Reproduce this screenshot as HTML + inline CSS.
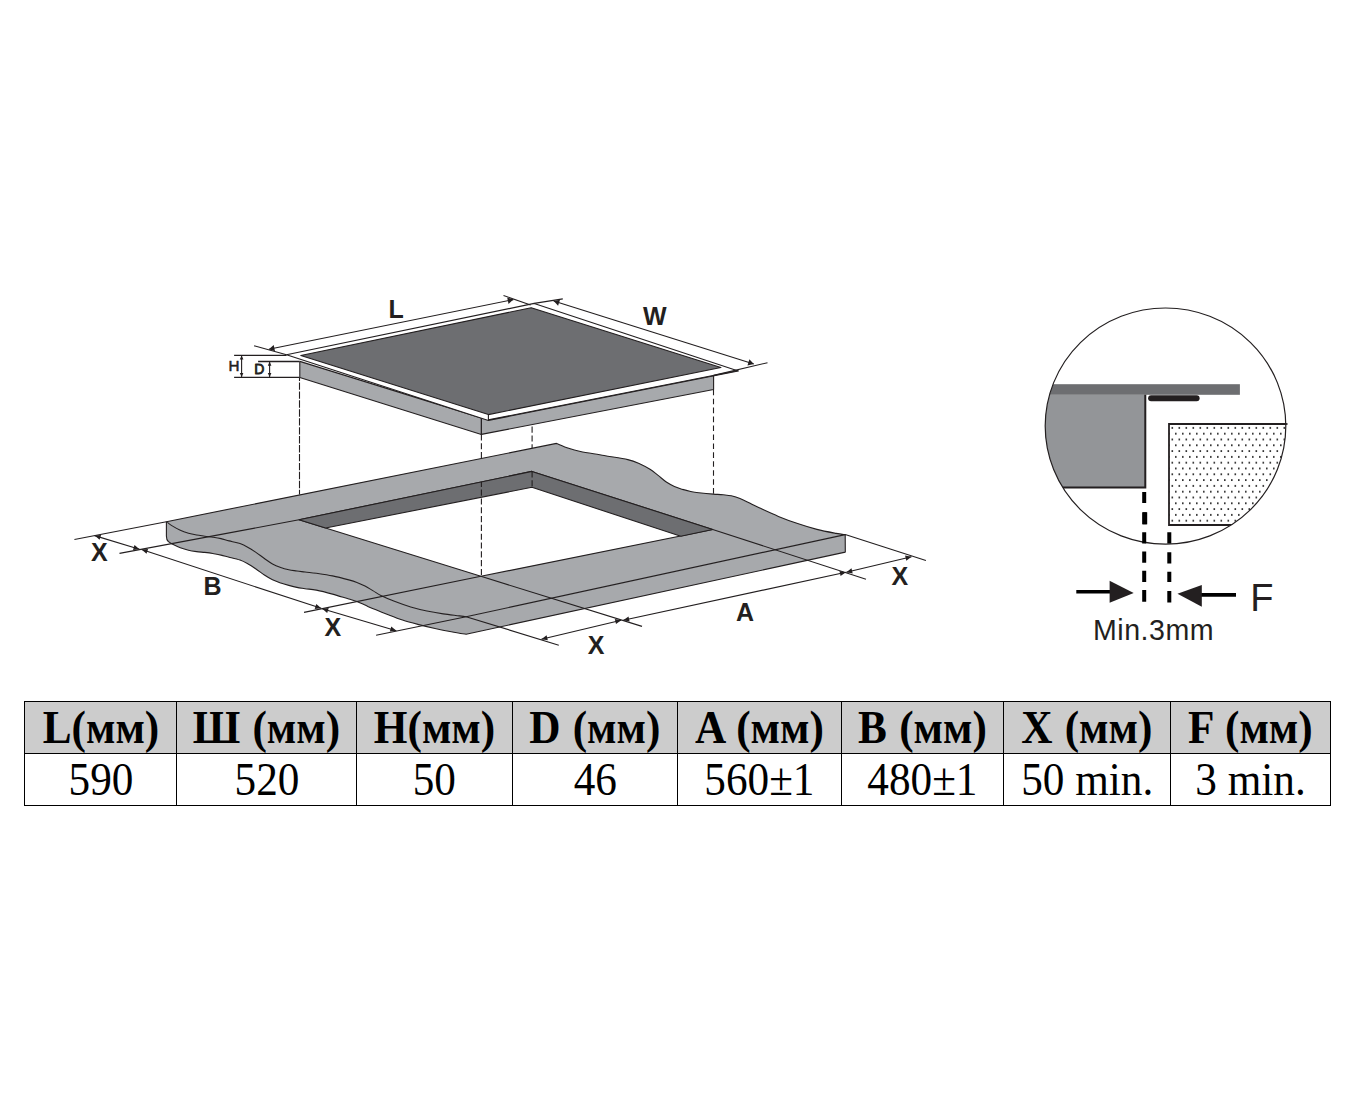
<!DOCTYPE html>
<html lang="ru">
<head>
<meta charset="utf-8">
<title>Размеры встраивания</title>
<style>
html,body{margin:0;padding:0;background:#fff;}
body{width:1353px;height:1107px;position:relative;overflow:hidden;font-family:"Liberation Sans",sans-serif;}
#dia{position:absolute;left:0;top:0;width:1353px;height:1107px;display:block;}
#dia text{font-family:"Liberation Sans",sans-serif;fill:#231f20;}
.ln{stroke:#231f20;stroke-width:1.1;fill:none;}
.ol{stroke:#231f20;stroke-width:1.1;fill:none;stroke-linejoin:round;}
.ah{fill:#231f20;stroke:none;}
.lg{fill:#a7a9ac;}
.dg{fill:#6d6e71;}
table.dim{position:absolute;left:24px;top:701px;border-collapse:collapse;table-layout:fixed;width:1307px;font-family:"Liberation Serif",serif;color:#000;}
table.dim td,table.dim th{border:1px solid #000;padding:0;text-align:center;font-size:45px;line-height:51px;height:51px;white-space:nowrap;overflow:hidden;}
table.dim span{display:inline-block;transform:scaleX(.94);transform-origin:50% 50%;position:relative;top:.3px;}
table.dim th{font-size:46px;word-spacing:1.5px;}
table.dim td{font-size:46.6px;}
table.dim td span{transform:scaleX(.928);top:.1px;}
table.dim th{background:#ccc;font-weight:bold;}
table.dim td{font-weight:normal;}
</style>
</head>
<body>
<svg id="dia" width="1353" height="1107" viewBox="0 0 1353 1107">
<g id="counter">
<path class="lg" d="M166.4 521.7 L166.4 535.5 Q166.3 539.6 168.3 541.5 C169 541.9 170.2 543.1 172.2 544.1 C174.2 545.1 177.6 546.8 180.3 547.8 C183 548.8 185.8 549.6 188.5 550.2 C191.2 550.8 193.9 551.2 196.6 551.6 C199.3 552 202 552.1 204.7 552.4 C207.4 552.7 210.1 553 212.8 553.5 C215.5 554 218.3 554.5 221 555.1 C223.7 555.7 225.9 556.4 229.1 557.2 C232.3 558 236.8 559 240 560.1 C243.2 561.2 245.4 562.5 248.1 564 C250.8 565.5 253.6 567.4 256.3 569.2 C259 571 261.7 573.2 264.4 575 C267.1 576.8 269.8 578.4 272.5 579.7 C275.2 581 278 582 280.7 583 C283.4 584 286.1 584.7 288.8 585.4 C291.5 586.1 294.2 586.8 296.9 587.4 C299.6 588 301.8 588.2 305 588.7 C308.2 589.2 311.7 589.2 316.3 590.1 C320.9 591 327.1 592.6 332.5 594.1 C337.9 595.6 344.7 597.8 348.8 599 C352.9 600.2 354.2 600.5 356.9 601.5 C359.6 602.5 362.3 603.9 365 605.1 C367.7 606.3 369.6 607.3 373.2 608.8 C376.8 610.3 381.4 612 386.3 613.9 C391.2 615.8 397.1 618.2 402.5 620 C407.9 621.8 413.4 623.2 418.8 624.6 C424.2 626 429.6 627.3 435 628.5 C440.4 629.7 446.1 630.8 451.3 631.7 C456.5 632.7 463.6 633.8 466.1 634.2 L845.3 552.1 L845.2 534.6 L466.1 616.7 C465 616.6 463.2 616.4 459.4 615.9 C455.6 615.4 448.6 614.7 443.2 613.9 C437.8 613.1 432.3 612.1 426.9 611 C421.5 609.9 416.1 608.6 410.7 607 C405.3 605.4 399.3 603.2 394.4 601.3 C389.5 599.4 384.9 597.4 381.4 595.7 C377.9 594 375.9 592.5 373.2 590.9 C370.5 589.3 367.7 587.4 365 586 C362.3 584.6 359.6 583.4 356.9 582.4 C354.2 581.4 352.9 581 348.8 579.9 C344.7 578.8 337.9 577 332.5 575.9 C327.1 574.8 320.9 573.9 316.3 573.2 C311.7 572.6 308.2 572.4 305 572 C301.8 571.6 299.6 571.4 296.9 571 C294.2 570.6 291.5 570.4 288.8 569.8 C286.1 569.2 283.4 568.5 280.7 567.5 C278 566.5 275.2 565.4 272.5 563.9 C269.8 562.4 267.1 560.4 264.4 558.5 C261.7 556.6 259 554.5 256.3 552.6 C253.6 550.8 250.8 548.9 248.1 547.4 C245.4 545.9 243.2 544.7 240 543.6 C236.8 542.5 232.3 541.7 229.1 540.9 C225.9 540.1 223.7 539.2 221 538.6 C218.3 538 215.5 537.6 212.8 537.2 C210.1 536.8 207.4 536.6 204.7 536.2 C202 535.8 199.3 535.5 196.6 535 C193.9 534.5 191.2 534 188.5 533.2 C185.8 532.4 183 531.5 180.3 530.3 C177.6 529.1 174.5 527.3 172.2 525.9 C169.9 524.5 167.4 522.4 166.4 521.7 Z"/>
<path class="ol" d="M166.4 521.7 L166.4 535.5 Q166.3 539.6 168.3 541.5 C169 541.9 170.2 543.1 172.2 544.1 C174.2 545.1 177.6 546.8 180.3 547.8 C183 548.8 185.8 549.6 188.5 550.2 C191.2 550.8 193.9 551.2 196.6 551.6 C199.3 552 202 552.1 204.7 552.4 C207.4 552.7 210.1 553 212.8 553.5 C215.5 554 218.3 554.5 221 555.1 C223.7 555.7 225.9 556.4 229.1 557.2 C232.3 558 236.8 559 240 560.1 C243.2 561.2 245.4 562.5 248.1 564 C250.8 565.5 253.6 567.4 256.3 569.2 C259 571 261.7 573.2 264.4 575 C267.1 576.8 269.8 578.4 272.5 579.7 C275.2 581 278 582 280.7 583 C283.4 584 286.1 584.7 288.8 585.4 C291.5 586.1 294.2 586.8 296.9 587.4 C299.6 588 301.8 588.2 305 588.7 C308.2 589.2 311.7 589.2 316.3 590.1 C320.9 591 327.1 592.6 332.5 594.1 C337.9 595.6 344.7 597.8 348.8 599 C352.9 600.2 354.2 600.5 356.9 601.5 C359.6 602.5 362.3 603.9 365 605.1 C367.7 606.3 369.6 607.3 373.2 608.8 C376.8 610.3 381.4 612 386.3 613.9 C391.2 615.8 397.1 618.2 402.5 620 C407.9 621.8 413.4 623.2 418.8 624.6 C424.2 626 429.6 627.3 435 628.5 C440.4 629.7 446.1 630.8 451.3 631.7 C456.5 632.7 463.6 633.8 466.1 634.2 L845.3 552.1 L845.2 534.6"/>
<path class="lg ol" d="M166.4 521.7 L556.5 443.4 C558.5 444.2 564.7 446.9 568.7 448.3 C572.7 449.7 574.6 450.3 580.5 451.5 C586.4 452.7 596.2 454.1 604.1 455.5 C612 456.9 621.9 458.2 627.8 459.6 C633.7 461 635.9 462.1 639.6 463.7 C643.3 465.3 646.9 467.4 650 469.3 C653.1 471.2 655.4 473.3 658.1 475.4 C660.8 477.5 663.6 480.2 666.3 482 C669 483.8 671.7 485.2 674.4 486.4 C677.1 487.6 679.8 488.5 682.5 489.4 C685.2 490.2 688 490.9 690.7 491.5 C693.4 492.1 695 492.4 698.8 492.8 C702.6 493.2 709.3 493.8 713.4 494.1 C717.5 494.4 720.2 494.5 723.2 494.8 C726.2 495.1 728.5 495.2 731.3 495.8 C734.1 496.4 737 497.2 740 498.4 C743 499.6 746.4 501.5 749.6 503.1 C752.8 504.7 754.4 505.6 759.2 507.8 C764 510 772 513.8 778.4 516.4 C784.8 519 791.2 521.4 797.6 523.6 C804 525.8 810.5 527.8 816.9 529.4 C823.3 531 831.4 532.5 836.1 533.4 C840.8 534.3 843.7 534.4 845.2 534.6 L466.1 616.7 C465 616.6 463.2 616.4 459.4 615.9 C455.6 615.4 448.6 614.7 443.2 613.9 C437.8 613.1 432.3 612.1 426.9 611 C421.5 609.9 416.1 608.6 410.7 607 C405.3 605.4 399.3 603.2 394.4 601.3 C389.5 599.4 384.9 597.4 381.4 595.7 C377.9 594 375.9 592.5 373.2 590.9 C370.5 589.3 367.7 587.4 365 586 C362.3 584.6 359.6 583.4 356.9 582.4 C354.2 581.4 352.9 581 348.8 579.9 C344.7 578.8 337.9 577 332.5 575.9 C327.1 574.8 320.9 573.9 316.3 573.2 C311.7 572.6 308.2 572.4 305 572 C301.8 571.6 299.6 571.4 296.9 571 C294.2 570.6 291.5 570.4 288.8 569.8 C286.1 569.2 283.4 568.5 280.7 567.5 C278 566.5 275.2 565.4 272.5 563.9 C269.8 562.4 267.1 560.4 264.4 558.5 C261.7 556.6 259 554.5 256.3 552.6 C253.6 550.8 250.8 548.9 248.1 547.4 C245.4 545.9 243.2 544.7 240 543.6 C236.8 542.5 232.3 541.7 229.1 540.9 C225.9 540.1 223.7 539.2 221 538.6 C218.3 538 215.5 537.6 212.8 537.2 C210.1 536.8 207.4 536.6 204.7 536.2 C202 535.8 199.3 535.5 196.6 535 C193.9 534.5 191.2 534 188.5 533.2 C185.8 532.4 183 531.5 180.3 530.3 C177.6 529.1 174.5 527.3 172.2 525.9 C169.9 524.5 167.4 522.4 166.4 521.7 Z"/>
<polygon class="ol" style="fill:#fff" points="531.9,471.4 712.7,529.5 480.9,576.3 299,519.8"/>
<polygon class="dg" points="299,519.8 531.9,471.4 712.7,529.5 680.8,536.2 531.9,487.3 325.6,528"/>
<polyline class="ol" points="299,519.8 531.9,471.4 712.7,529.5"/>
<polyline class="ol" points="325.6,528 531.9,487.3 680.8,536.2"/>
<line class="ol" x1="299" y1="519.8" x2="325.6" y2="528"/>
<line class="ol" x1="712.7" y1="529.5" x2="680.8" y2="536.2"/>
</g>
<g id="hob">
<polygon class="lg ol" points="299.8,361.4 481.4,417.9 481.4,434.4 299.8,377.4"/>
<polygon class="lg ol" points="481.4,417.9 713.6,375.4 713.6,389.5 481.4,434.4"/>
<polygon class="ol" style="fill:#fff" points="286.5,354.8 534.2,303.4 738.3,371 488.4,420.4"/>
<polygon class="dg ol" points="300.8,355.5 531.2,307.7 720.9,367.5 488.4,414.6"/>
<line class="ol" x1="488.4" y1="414.6" x2="488.4" y2="420.4"/>
<line class="ln" x1="488.4" y1="419.9" x2="738.3" y2="370.5"/>
</g>
<g id="dims">
<line class="ln" x1="299.5" y1="377.4" x2="299.5" y2="494.4" stroke-dasharray="7.4 1.54" stroke-dashoffset="3.9"/>
<line class="ln" x1="481.4" y1="434.4" x2="481.4" y2="458.5" stroke-dasharray="6.1 2.71" stroke-dashoffset="0"/>
<line class="ln" x1="481.4" y1="481.9" x2="481.4" y2="576.3" stroke-dasharray="6.1 2.71" stroke-dashoffset="1.1"/>
<line class="ln" x1="532.1" y1="424.6" x2="532.1" y2="448.3" stroke-dasharray="6.1 2.71" stroke-dashoffset="6.8"/>
<line class="ln" x1="532.1" y1="471.4" x2="532.1" y2="487.3" stroke-dasharray="6.1 2.71" stroke-dashoffset="0"/>
<line class="ln" x1="713.5" y1="389.5" x2="713.5" y2="494.1" stroke-dasharray="5.6 3.34" stroke-dashoffset="8.7"/>
<path d="M234.1 355.3H286.5M258.1 361.5H299.5M234.1 377.3H299.5" fill="none" stroke="#231f20" stroke-width="1.3"/>
<line class="ln" x1="241.6" y1="355.6" x2="241.6" y2="377"/><polygon class="ah" points="241.6,355.6 243.4,359.6 239.8,359.6"/><polygon class="ah" points="241.6,377 239.8,373 243.4,373"/>
<line class="ln" x1="269.6" y1="361.8" x2="269.6" y2="377"/><polygon class="ah" points="269.6,361.8 271.4,365.8 267.8,365.8"/><polygon class="ah" points="269.6,377 267.8,373 271.4,373"/>
<line class="ln" x1="254.1" y1="345.8" x2="286.5" y2="354.8"/>
<line class="ln" x1="268.9" y1="349.3" x2="513.3" y2="299.6"/><polygon class="ah" points="268.9,349.3 273.7,345 275,351.3"/><polygon class="ah" points="513.3,299.6 508.5,303.9 507.2,297.6"/>
<line class="ln" x1="503.5" y1="295.5" x2="530.6" y2="304.9"/>
<line class="ln" x1="562.8" y1="298.9" x2="534.2" y2="303.4"/>
<line class="ln" x1="553.7" y1="301.1" x2="753.8" y2="364"/><polygon class="ah" points="553.7,301.1 560,299.7 558.1,305.8"/><polygon class="ah" points="753.8,364 747.5,365.4 749.4,359.3"/>
<line class="ln" x1="713.6" y1="375.4" x2="767.5" y2="362.7"/>
<line class="ln" x1="74.4" y1="539.5" x2="166.4" y2="521.7"/>
<line class="ln" x1="119.5" y1="553.4" x2="299" y2="519.8"/>
<line class="ln" x1="304" y1="612.4" x2="480.9" y2="576.3"/>
<line class="ln" x1="376.1" y1="635.3" x2="466.1" y2="616.7"/>
<line class="ln" x1="466.1" y1="616.7" x2="558.8" y2="645.2"/>
<line class="ln" x1="480.9" y1="576.3" x2="642" y2="626.4"/>
<line class="ln" x1="712.7" y1="529.5" x2="866" y2="579.2"/>
<line class="ln" x1="845.2" y1="534.6" x2="925.9" y2="560.4"/>
<line class="ln" x1="94.6" y1="535.6" x2="139.5" y2="549.2"/><polygon class="ah" points="94.6,535.6 101.1,534.9 99.6,539.8"/><polygon class="ah" points="139.5,549.2 133,549.9 134.5,545"/>
<line class="ln" x1="141.6" y1="549.5" x2="321.2" y2="608.3"/><polygon class="ah" points="141.6,549.5 148.1,548.9 146.5,553.8"/><polygon class="ah" points="321.2,608.3 314.7,608.9 316.3,604"/>
<line class="ln" x1="322.2" y1="608.8" x2="396.3" y2="630.7"/><polygon class="ah" points="322.2,608.8 328.7,608 327.2,613"/><polygon class="ah" points="396.3,630.7 389.8,631.5 391.3,626.5"/>
<line class="ln" x1="541.4" y1="639.2" x2="621.2" y2="620.2"/><polygon class="ah" points="541.4,639.2 546.6,635.3 547.8,640.3"/><polygon class="ah" points="621.2,620.2 616,624.1 614.8,619.1"/>
<line class="ln" x1="623.2" y1="620.2" x2="845.9" y2="572.3"/><polygon class="ah" points="623.2,620.2 628.5,616.4 629.6,621.5"/><polygon class="ah" points="845.9,572.3 840.6,576.1 839.5,571"/>
<line class="ln" x1="846.3" y1="572.2" x2="911.5" y2="556.8"/><polygon class="ah" points="846.3,572.2 851.5,568.3 852.7,573.4"/><polygon class="ah" points="911.5,556.8 906.3,560.7 905.1,555.6"/>
</g>
<g id="labels">
<text x="388.6" y="318.1" font-size="25" font-weight="bold">L</text>
<text x="643" y="325" font-size="25" font-weight="bold">W</text>
<text x="228.5" y="370.6" font-size="15.2" font-weight="normal" stroke="#231f20" stroke-width="0.55">H</text>
<text x="254.2" y="374.2" font-size="14" font-weight="normal" stroke="#231f20" stroke-width="0.8" stroke-linejoin="round">D</text>
<text x="91" y="560.9" font-size="25" font-weight="bold">X</text>
<text x="203.5" y="594.8" font-size="25" font-weight="bold">B</text>
<text x="324.5" y="635.8" font-size="25" font-weight="bold">X</text>
<text x="587.7" y="653.8" font-size="25" font-weight="bold">X</text>
<text x="736" y="620.7" font-size="25" font-weight="bold">A</text>
<text x="891.5" y="584.7" font-size="25" font-weight="bold">X</text>
</g>
<g id="detail">
<defs><clipPath id="cc"><ellipse cx="1165.5" cy="426.1" rx="120.3" ry="118.1"/></clipPath>
<pattern id="dots" x="1169" y="424" width="7" height="11.6" patternUnits="userSpaceOnUse"><rect x="2.5" y="3.1" width="1.6" height="1.6" fill="#111"/><rect x="6" y="8.9" width="1.6" height="1.6" fill="#111"/><rect x="-1" y="8.9" width="1.6" height="1.6" fill="#111"/></pattern></defs>
<g clip-path="url(#cc)">
<rect x="1040" y="394.8" width="105.3" height="92.7" fill="#939598"/>
<rect x="1040" y="384.2" width="199.9" height="10.6" fill="#6d6e71"/>
<path d="M1145.3 394.8V487.6H1040" fill="none" stroke="#231f20" stroke-width="2"/>
<rect x="1169" y="424" width="130" height="101" fill="#fff"/>
<rect x="1169" y="424" width="130" height="101" fill="url(#dots)"/>
<path d="M1300 424H1169V525H1300" fill="none" stroke="#231f20" stroke-width="1.8"/>
<rect x="1148.1" y="395.2" width="51.5" height="6" rx="3" ry="3" fill="#231f20"/>
</g>
<ellipse cx="1165.5" cy="426.1" rx="120.3" ry="118.1" fill="none" stroke="#231f20" stroke-width="1.2"/>
<path d="M1283 424H1287.5" fill="none" stroke="#231f20" stroke-width="1.8"/>
<path d="M1144.2 491.9V502.9M1144.7 512.3V524.3M1144.2 532.2V543.4M1144.2 551.4V562.8M1144.2 570.8V582.1M1144.2 590.1V601.7" stroke="#000" stroke-width="4" fill="none"/>
<path d="M1169.3 532.2V543.4M1169.3 552.2V563.4M1169.3 571.8V582.1M1169.3 591.1V602.5" stroke="#000" stroke-width="4" fill="none"/>
<path d="M1144.7 512.3V524.3" stroke="#000" stroke-width="5" fill="none"/>
<path d="M1076.3 591.7H1112.8" stroke="#000" stroke-width="3.6" fill="none"/>
<polygon points="1109.6,580.8 1133.7,593 1109.6,602.8" fill="#231f20"/>
<path d="M1199.6 594.9H1236" stroke="#000" stroke-width="3.6" fill="none"/>
<polygon points="1201.8,585.1 1177.5,593.7 1201.8,606.8" fill="#231f20"/>
<text x="1250.2" y="610.7" font-size="38" font-weight="normal">F</text>
<text x="1093" y="639.7" font-size="28.6" font-weight="normal" letter-spacing="0.5">Min.3mm</text>
</g>
</svg>
<table class="dim">
<colgroup><col style="width:152px"><col style="width:180px"><col style="width:156px"><col style="width:165px"><col style="width:164px"><col style="width:162px"><col style="width:167px"><col style="width:160px"></colgroup>
<tr><th><span>L(мм)</span></th><th><span>Ш (мм)</span></th><th><span>H(мм)</span></th><th><span>D (мм)</span></th><th><span>A (мм)</span></th><th><span>B (мм)</span></th><th><span>X (мм)</span></th><th><span>F (мм)</span></th></tr>
<tr><td><span>590</span></td><td><span>520</span></td><td><span>50</span></td><td><span>46</span></td><td><span>560±1</span></td><td><span>480±1</span></td><td><span>50 min.</span></td><td><span>3 min.</span></td></tr>
</table>
</body>
</html>
